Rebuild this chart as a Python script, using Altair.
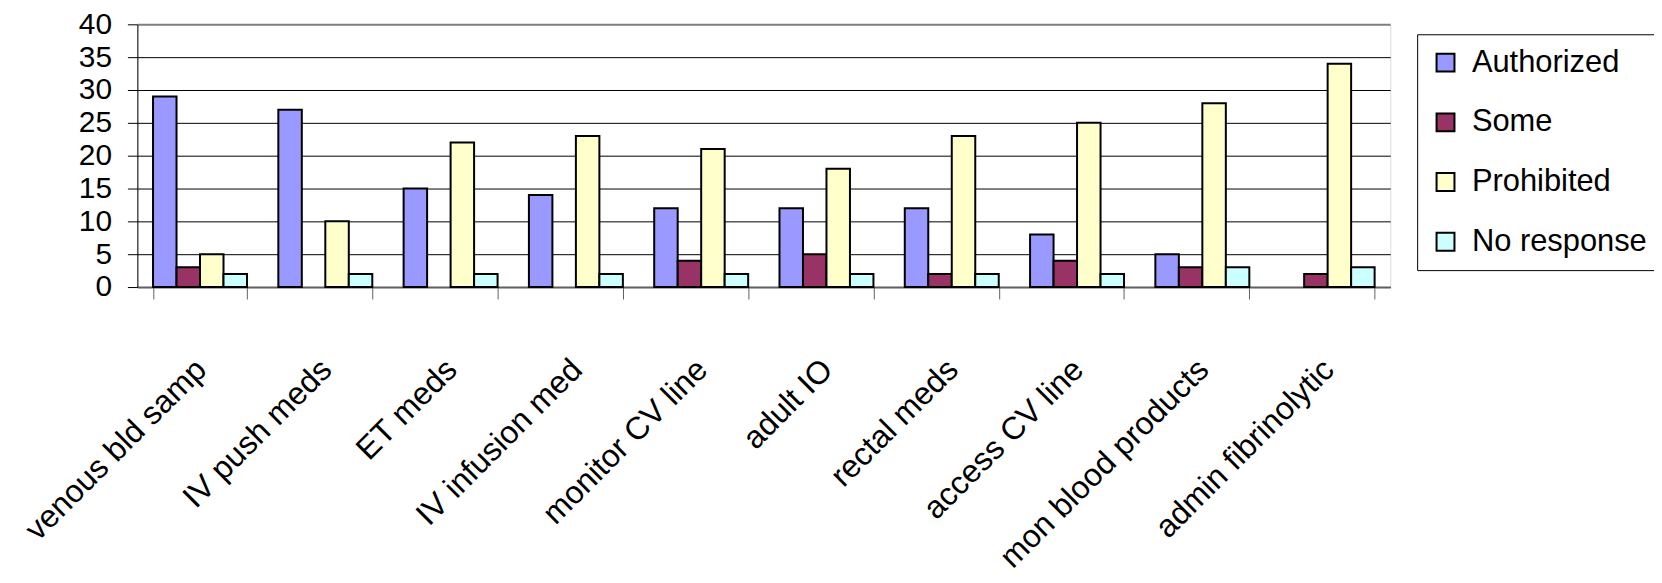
import altair as alt
import pandas as pd

categories = ["venous bld samp", "IV push meds", "ET meds", "IV infusion med",
              "monitor CV line", "adult IO", "rectal meds", "access CV line",
              "mon blood products", "admin fibrinolytic"]
series = ["Authorized", "Some", "Prohibited", "No response"]
authorized = [29, 27, 15, 14, 12, 12, 12, 8, 5, 0]
some = [3, 0, 0, 0, 4, 5, 2, 4, 3, 2]
prohibited = [5, 10, 22, 23, 21, 18, 23, 25, 28, 34]
no_response = [2, 2, 2, 2, 2, 2, 2, 2, 3, 3]
colors = ["#9999FF", "#993366", "#FFFFCC", "#CCFFFF"]
y_ticks = [0, 5, 10, 15, 20, 25, 30, 35, 40]

rows = []
for s, vals in zip(series, [authorized, some, prohibited, no_response]):
    for c, v in zip(categories, vals):
        rows.append({"category": c, "series": s, "value": v})
df = pd.DataFrame(rows)
df = df[df["value"] > 0]

FONT = "Liberation Sans"

chart = alt.Chart(df).mark_bar(stroke="black", strokeWidth=2).encode(
    x=alt.X("category:N", sort=categories,
            scale=alt.Scale(paddingInner=0.25, paddingOuter=0.125),
            axis=alt.Axis(title=None, labelAngle=-45, labelAlign="right", labelBaseline="top",
                          labelFontSize=32, labelFont=FONT, labelColor="black",
                          labelPadding=55, labelOffset=-10, tickBand="extent", tickSize=12,
                          tickColor="#606060", domainColor="#606060", domainWidth=2,
                          labelLimit=0, grid=False)),
    xOffset=alt.XOffset("series:N", sort=series,
                        scale=alt.Scale(domain=series, paddingInner=0, paddingOuter=0)),
    y=alt.Y("value:Q", scale=alt.Scale(domain=[0, 40], nice=False),
            axis=alt.Axis(title=None, values=y_ticks, labelFontSize=30, labelFont=FONT,
                          labelColor="black", labelPadding=16, tickSize=10,
                          tickColor="black", domainColor="black", domainWidth=1,
                          grid=True,
                          gridColor={"condition": {"test": "datum.value == 40", "value": "#808080"},
                                     "value": "black"},
                          gridWidth={"condition": {"test": "datum.value == 40", "value": 2},
                                     "value": 1})),
    color=alt.Color("series:N", sort=series,
                    scale=alt.Scale(domain=series, range=colors),
                    legend=alt.Legend(title=None, orient="none", legendX=1286, legendY=10,
                                      fillColor="white", strokeColor="black", padding=13,
                                      symbolType="square", symbolSize=324,
                                      symbolStrokeColor="black", symbolStrokeWidth=2,
                                      labelFontSize=31, labelFont=FONT, labelColor="black",
                                      rowPadding=28, labelOffset=11, labelLimit=0)),
).properties(
    width=1259, height=264,
    padding={"left": 130, "top": 15, "right": 265, "bottom": 296},
    autosize=alt.AutoSizeParams(type="none"),
).configure_view(
    fill="#C0C0C0", stroke="#808080", strokeWidth=2
).configure(background="white")

chart.save("out.html", embed_options={"renderer": "svg", "actions": False})
